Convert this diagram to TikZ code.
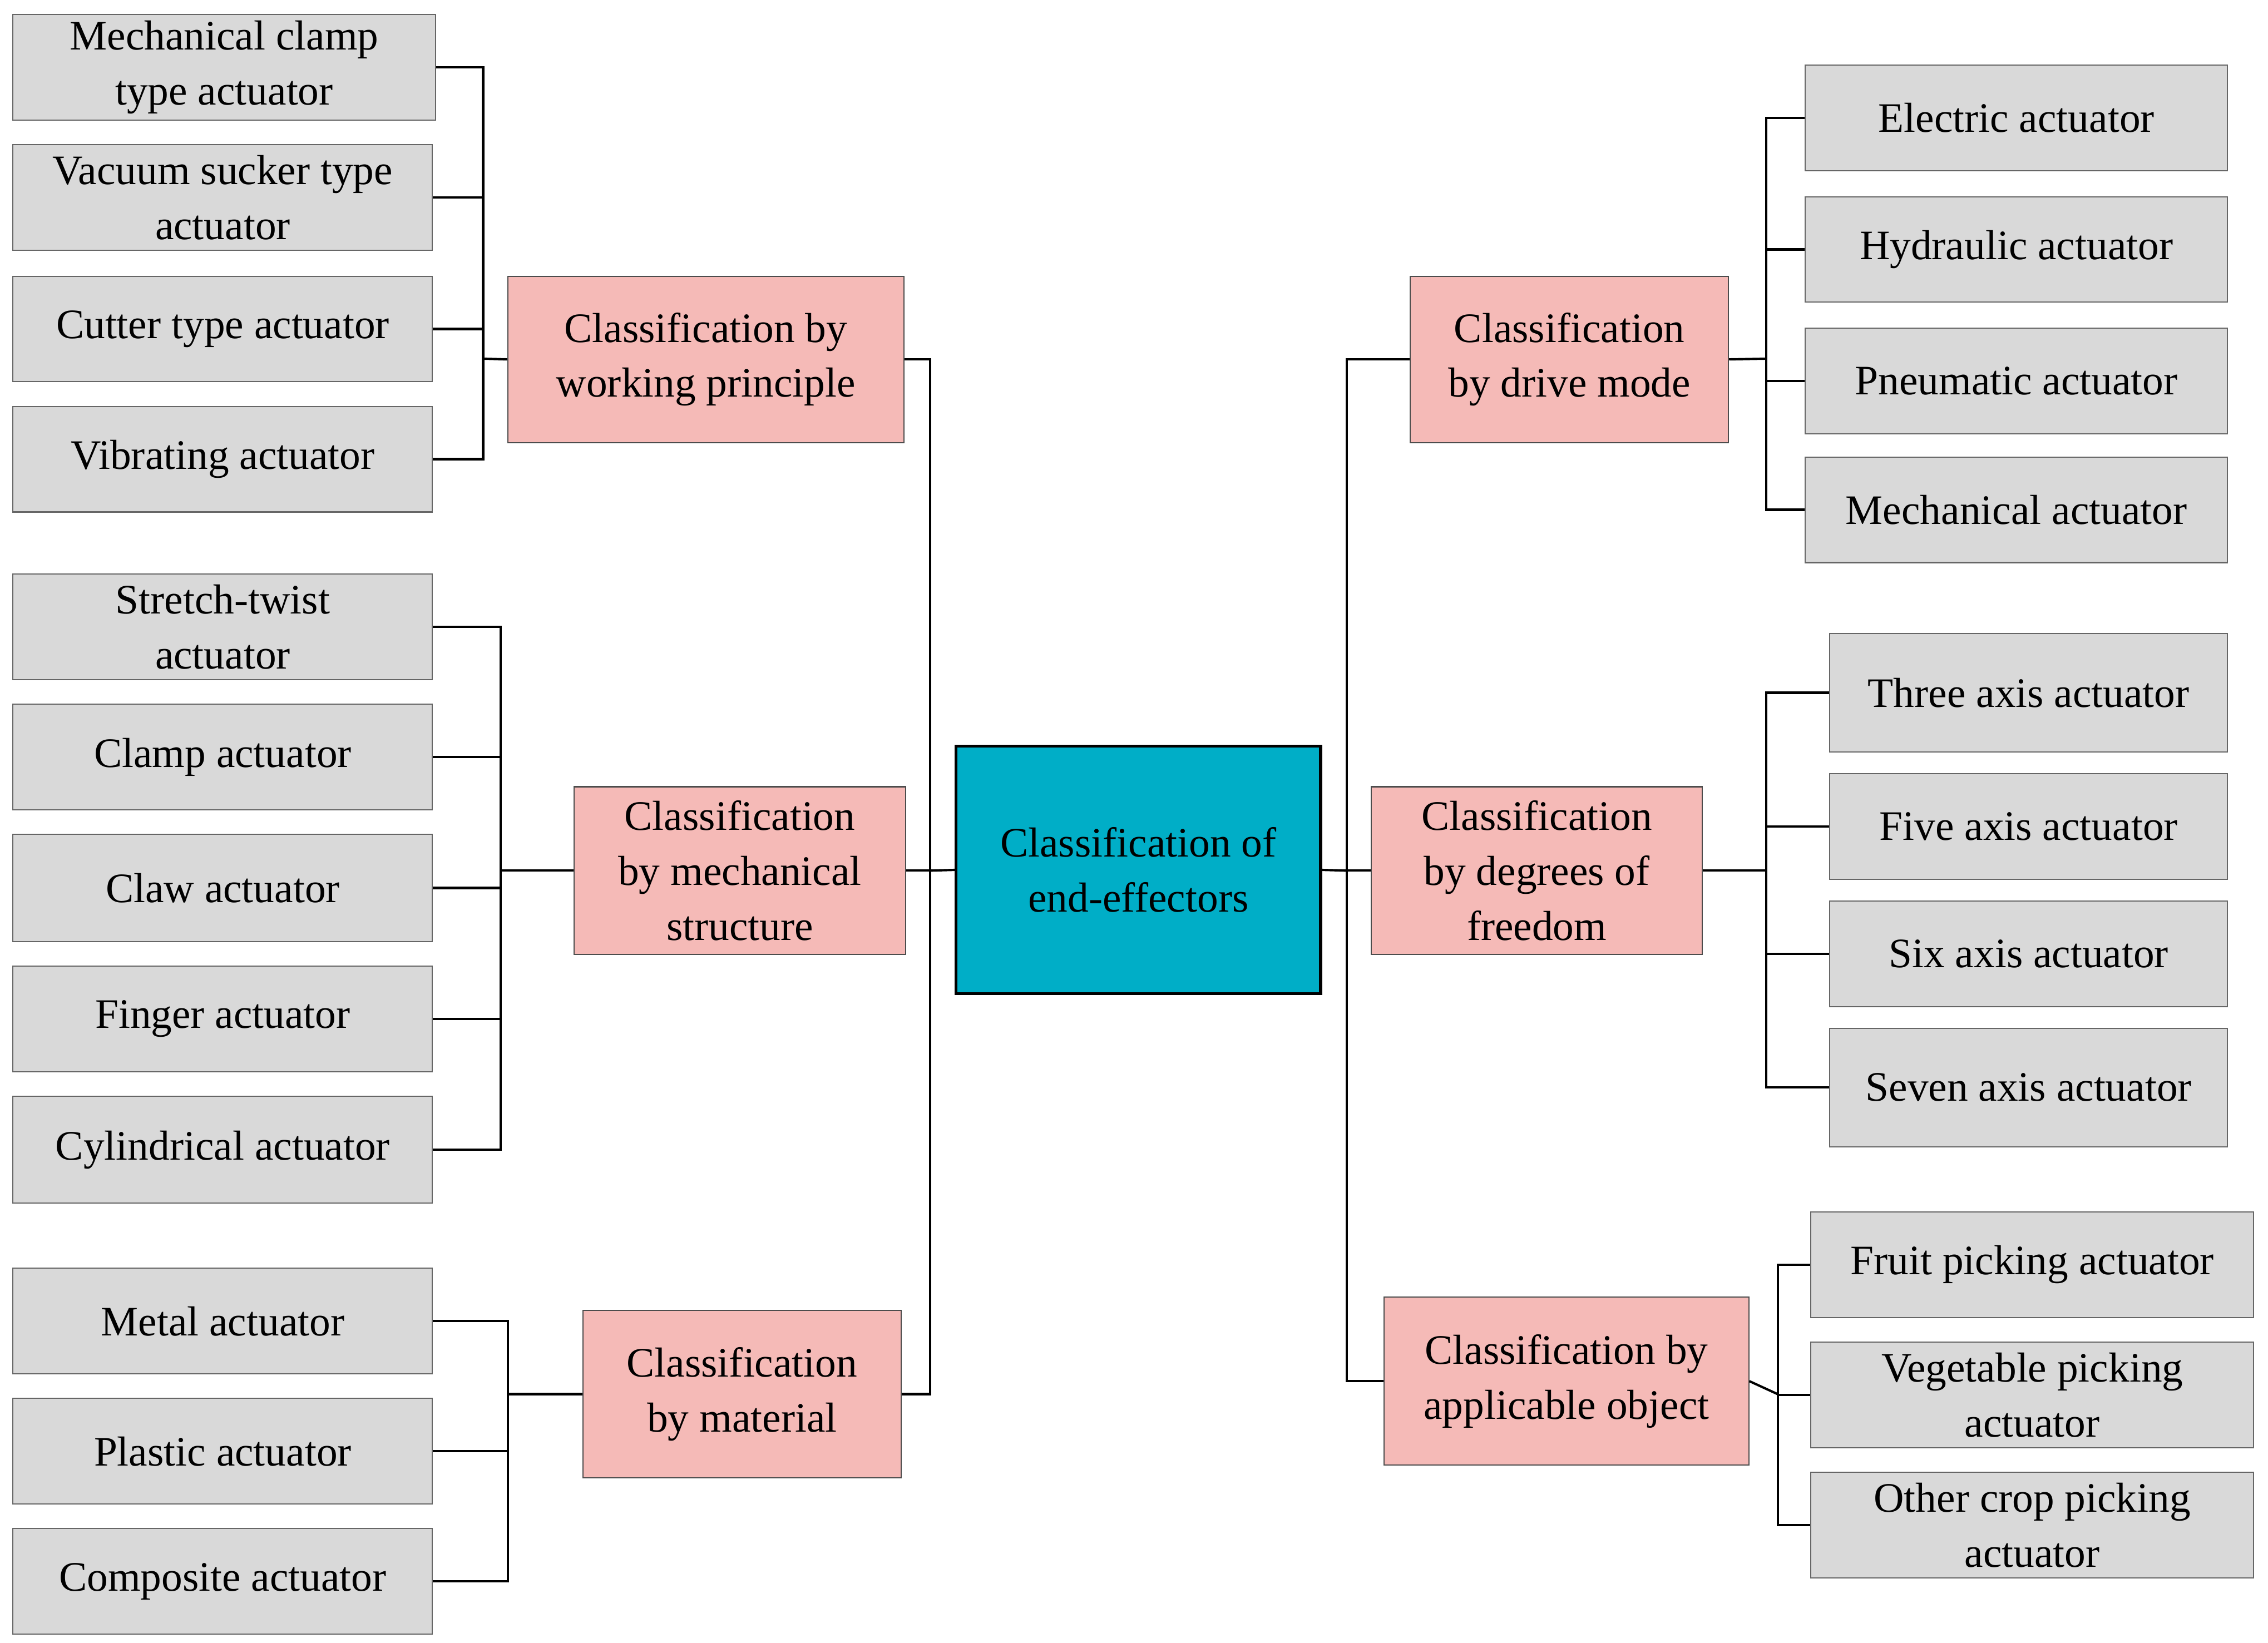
\documentclass[tikz,border=0pt]{standalone}
\usepackage{fontspec}
\setmainfont{Liberation Serif}
\begin{document}
\begin{tikzpicture}[x=1pt,y=-1pt,
 every node/.style={font=\fontsize{29}{38}\selectfont, align=center, inner sep=0pt},
 g/.style={draw=black!60, line width=0.8pt, fill=black!15},
 p/.style={draw=black!70, line width=0.8pt, fill={rgb,255:red,245;green,186;blue,183}},
 c/.style={draw=black, line width=2pt, fill={rgb,255:red,0;green,174;blue,199}},
 ln/.style={line width=1.6pt}]
\useasboundingbox (0,0) rectangle (1568,1136);
\newcommand\bx[7]{\node[#1, minimum width=#4-#3, minimum height=#6-#5] (#2) at ({(#3+#4)/2},{(#5+#6)/2}) {#7};}
% left gray
\bx{g}{a1}{9}{301}{10}{83}{Mechanical clamp\\type actuator}
\bx{g}{a2}{9}{299}{100}{173}{Vacuum sucker type\\actuator}
\bx{g}{a3}{9}{299}{191}{264}{Cutter type actuator}
\bx{g}{a4}{9}{299}{281}{354}{Vibrating actuator}
\bx{g}{b1}{9}{299}{397}{470}{Stretch-twist\\actuator}
\bx{g}{b2}{9}{299}{487}{560}{Clamp actuator}
\bx{g}{b3}{9}{299}{577}{651}{Claw actuator}
\bx{g}{b4}{9}{299}{668}{741}{Finger actuator}
\bx{g}{b5}{9}{299}{758}{832}{Cylindrical actuator}
\bx{g}{c1}{9}{299}{877}{950}{Metal actuator}
\bx{g}{c2}{9}{299}{967}{1040}{Plastic actuator}
\bx{g}{c3}{9}{299}{1057}{1130}{Composite actuator}
% pink
\bx{p}{pa}{351}{625}{191}{306}{Classification by\\working principle}
\bx{p}{pb}{397}{626}{544}{660}{Classification\\by mechanical\\structure}
\bx{p}{pc}{403}{623}{906}{1022}{Classification\\by material}
\bx{c}{ctr}{661}{913}{516}{687}{Classification of\\end-effectors}
\bx{p}{pd}{975}{1195}{191}{306}{Classification\\by drive mode}
\bx{p}{pe}{948}{1177}{544}{660}{Classification\\by degrees of\\freedom}
\bx{p}{pf}{957}{1209}{897}{1013}{Classification by\\applicable object}
% right gray
\bx{g}{d1}{1248}{1540}{45}{118}{Electric actuator}
\bx{g}{d2}{1248}{1540}{136}{209}{Hydraulic actuator}
\bx{g}{d3}{1248}{1540}{227}{300}{Pneumatic actuator}
\bx{g}{d4}{1248}{1540}{316}{389}{Mechanical actuator}
\bx{g}{e1}{1265}{1540}{438}{520}{Three axis actuator}
\bx{g}{e2}{1265}{1540}{535}{608}{Five axis actuator}
\bx{g}{e3}{1265}{1540}{623}{696}{Six axis actuator}
\bx{g}{e4}{1265}{1540}{711}{793}{Seven axis actuator}
\bx{g}{f1}{1252}{1558}{838}{911}{Fruit picking actuator}
\bx{g}{f2}{1252}{1558}{928}{1001}{Vegetable picking\\actuator}
\bx{g}{f3}{1252}{1558}{1018}{1091}{Other crop picking\\actuator}
% buses
\coordinate (ba) at (334,248);
\coordinate (bb) at (346,602);
\coordinate (bc) at (351,964);
\coordinate (bl) at (643,602);
\coordinate (br) at (931,602);
\coordinate (bd) at (1221,248);
\coordinate (be) at (1221,602);
\coordinate (bf) at (1229,964);
\draw[ln] (pa.west) -- (ba);
\foreach \n in {a1,a2,a3,a4} \draw[ln] (ba) |- (\n.east);
\draw[ln] (pb.west) -- (bb);
\foreach \n in {b1,b2,b3,b4,b5} \draw[ln] (bb) |- (\n.east);
\draw[ln] (pc.west) -- (bc);
\foreach \n in {c1,c2,c3} \draw[ln] (bc) |- (\n.east);
\draw[ln] (ctr.west) -- (bl);
\foreach \n in {pa,pb,pc} \draw[ln] (bl) |- (\n.east);
\draw[ln] (ctr.east) -- (br);
\foreach \n in {pd,pe,pf} \draw[ln] (br) |- (\n.west);
\draw[ln] (pd.east) -- (bd);
\foreach \n in {d1,d2,d3,d4} \draw[ln] (bd) |- (\n.west);
\draw[ln] (pe.east) -- (be);
\foreach \n in {e1,e2,e3,e4} \draw[ln] (be) |- (\n.west);
\draw[ln] (pf.east) -- (bf);
\foreach \n in {f1,f2,f3} \draw[ln] (bf) |- (\n.west);
\end{tikzpicture}
\end{document}
